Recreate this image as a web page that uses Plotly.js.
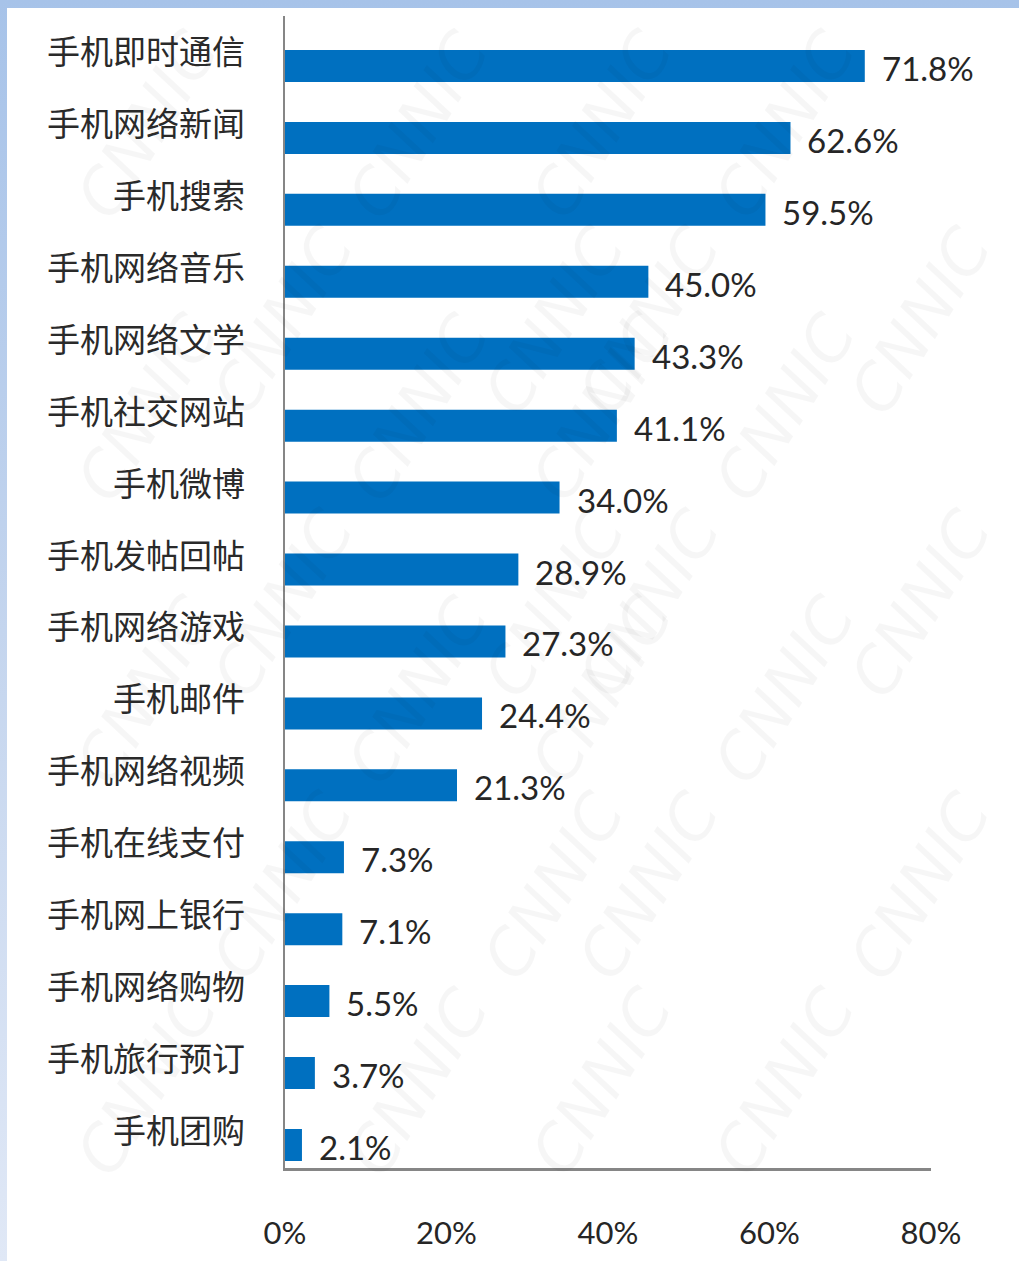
<!DOCTYPE html>
<html>
<head>
<meta charset="utf-8">
<script src="https://cdn.plot.ly/plotly-3.0.1.min.js"></script>
<style>
  html, body { margin: 0; padding: 0; }
  body { width: 1019px; height: 1261px; background: linear-gradient(to bottom, #a7c3e9 0%, #c4d5ee 50%, #e0e8f6 100%); position: relative; overflow: hidden; }
  #chart { position: absolute; left: 7px; top: 8px; width: 1012px; height: 1253px; background: #ffffff; }
</style>
</head>
<body>
<div id="chart"></div>
<script>
// Data (top to bottom as shown)
const categories = ["手机即时通信", "手机网络新闻", "手机搜索", "手机网络音乐", "手机网络文学", "手机社交网站", "手机微博", "手机发帖回帖", "手机网络游戏", "手机邮件", "手机网络视频", "手机在线支付", "手机网上银行", "手机网络购物", "手机旅行预订", "手机团购"];
const values = [71.8, 62.6, 59.5, 45.0, 43.3, 41.1, 34.0, 28.9, 27.3, 24.4, 21.3, 7.3, 7.1, 5.5, 3.7, 2.1];
const xTickValues = [0, 20, 40, 60, 80];
const xTickLabels = ["0%", "20%", "40%", "60%", "80%"];

const cjkFont = '"Noto Sans CJK SC", "Noto Sans", sans-serif';
const numFont = 'Lato, "Open Sans", sans-serif';

const trace = {
  type: 'bar',
  orientation: 'h',
  x: values,
  y: categories.map((c, i) => i),
  width: 0.445,
  marker: { color: '#0070C0', line: { width: 0 } },
  hoverinfo: 'skip'
};

const annotations = [];

// faint watermark (drawn first so labels sit on top)
const wm = [];
for (let r = 0; r < 7; r++) {
  for (let c = 0; c < 4; c++) {
    wm.push([-0.35 + c * 0.42 + (r % 2) * 0.21, 1.0 - r * 0.17]);
  }
}
wm.forEach(p => annotations.push({
  xref: 'paper', yref: 'paper', x: p[0], y: p[1], showarrow: false,
  text: '<i>CNNIC</i>', textangle: -58,
  font: { family: '"DejaVu Sans", sans-serif', size: 64, color: 'rgba(0,0,0,0.035)' }
}));

categories.forEach((c, i) => {
  annotations.push({
    xref: 'paper', yref: 'y', x: 0, y: i,
    xanchor: 'right', yanchor: 'middle', xshift: -38, yshift: 16,
    text: c, showarrow: false,
    font: { family: cjkFont, size: 33, color: '#2a2a2a' }
  });
  annotations.push({
    xref: 'x', yref: 'y', x: values[i], y: i,
    xanchor: 'left', yanchor: 'middle', xshift: 15, yshift: -2,
    text: values[i].toFixed(1) + '%', showarrow: false,
    font: { family: numFont, size: 33, color: '#262626' }
  });
});

const layout = {
  width: 1012, height: 1253,
  margin: { l: 278, r: 88, t: 8, b: 93, pad: 0 },
  paper_bgcolor: '#ffffff', plot_bgcolor: 'rgba(0,0,0,0)',
  showlegend: false,
  xaxis: {
    range: [0, 80], tickvals: xTickValues, ticktext: xTickLabels,
    showgrid: false, zeroline: false, showline: true,
    linecolor: '#868686', linewidth: 2.5, ticks: '',
    ticklabelstandoff: 36,
    tickfont: { family: numFont, size: 31, color: '#262626' },
    fixedrange: true
  },
  yaxis: {
    range: [15.32, -0.695],
    tickvals: [], showticklabels: false,
    showgrid: false, zeroline: false, showline: true,
    linecolor: '#868686', linewidth: 2.5, ticks: '',
    fixedrange: true
  },
  annotations: annotations
};

Plotly.newPlot('chart', [trace], layout, { displayModeBar: false, staticPlot: true });
</script>
</body>
</html>
